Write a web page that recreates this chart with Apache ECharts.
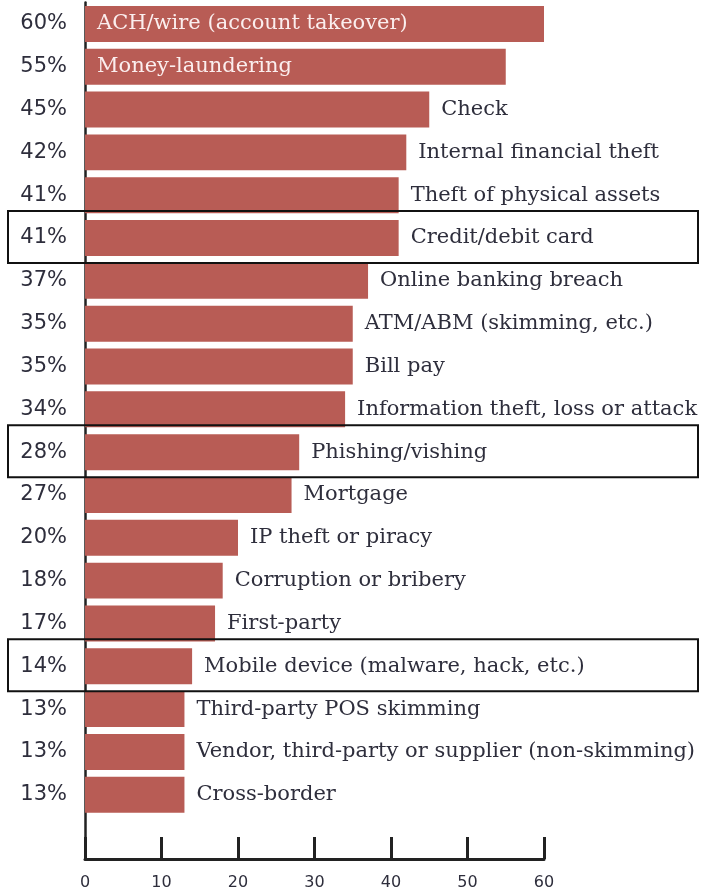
<!DOCTYPE html>
<html>
<head>
<meta charset="utf-8">
<script src="https://cdn.jsdelivr.net/npm/echarts@6/dist/echarts.min.js"></script>
<style>
  html, body { margin: 0; padding: 0; background: #fff; }
  #chart { width: 706px; height: 894px; }
</style>
</head>
<body>
<div id="chart"></div>
<script>
// Fraud types, top to bottom
const categories = [
  'ACH/wire (account takeover)',
  'Money-laundering',
  'Check',
  'Internal financial theft',
  'Theft of physical assets',
  'Credit/debit card',
  'Online banking breach',
  'ATM/ABM (skimming, etc.)',
  'Bill pay',
  'Information theft, loss or attack',
  'Phishing/vishing',
  'Mortgage',
  'IP theft or piracy',
  'Corruption or bribery',
  'First-party',
  'Mobile device (malware, hack, etc.)',
  'Third-party POS skimming',
  'Vendor, third-party or supplier (non-skimming)',
  'Cross-border'
];

// Share of respondents (%)
const values = [60, 55, 45, 42, 41, 41, 37, 35, 35, 34, 28, 27, 20, 18, 17, 14, 13, 13, 13];

// Rows outlined with a frame
const highlighted = ['Credit/debit card', 'Phishing/vishing', 'Mobile device (malware, hack, etc.)'];

// Bottom axis ticks
const xTicks = [0, 10, 20, 30, 40, 50, 60];

const BAR = '#b85c55';
const INK = '#2e2e3c';
const SERIF = '"DejaVu Serif", "Liberation Serif", serif';
const SANS = '"DejaVu Sans", "Liberation Sans", sans-serif';

const chart = echarts.init(document.getElementById('chart'), null, { renderer: 'canvas' });

const insideLabel = {
  position: 'insideLeft',
  distance: 12,
  color: '#fbeeee'
};

chart.setOption({
  animation: false,
  backgroundColor: '#ffffff',
  grid: { left: 85, right: 162, top: 2.5, bottom: 35, containLabel: false },
  xAxis: {
    type: 'value',
    min: xTicks[0],
    max: xTicks[xTicks.length - 1],
    interval: 10,
    splitLine: { show: false },
    axisLine: { show: true, lineStyle: { color: '#222', width: 3 } },
    axisTick: { show: true, inside: true, length: 22, lineStyle: { color: '#222', width: 3 } },
    axisLabel: { color: INK, fontFamily: SANS, fontSize: 16, margin: 16 }
  },
  yAxis: {
    type: 'category',
    data: categories,
    inverse: true,
    // one empty slot below the last bar, so the frame reaches the baseline
    max: categories.length,
    axisLine: { show: true, lineStyle: { color: '#222', width: 2.5 } },
    axisTick: { show: false },
    axisLabel: {
      color: INK,
      fontFamily: SANS,
      fontSize: 21,
      margin: 18,
      formatter: function (name, idx) {
        return values[idx] == null ? '' : values[idx] + '%';
      }
    }
  },
  series: [{
    type: 'bar',
    barCategoryGap: '16%',
    itemStyle: { color: BAR },
    label: {
      show: true,
      position: 'right',
      distance: 12,
      color: INK,
      fontFamily: SERIF,
      fontSize: 21,
      formatter: function (p) { return p.name; }
    },
    data: values.map(function (v) {
      return v >= 50 ? { value: v, label: insideLabel } : v;
    })
  }]
});

// Frames around the highlighted rows
function drawFrames() {
  const elements = highlighted.map(function (name) {
    const y = chart.convertToPixel({ yAxisIndex: 0 }, name);
    return {
      type: 'rect',
      shape: { x: 8, y: y - 27, width: 690, height: 52 },
      style: { fill: 'none', stroke: '#111', lineWidth: 2 },
      z: 100
    };
  });
  chart.setOption({ graphic: elements });
}
drawFrames();
</script>
</body>
</html>
